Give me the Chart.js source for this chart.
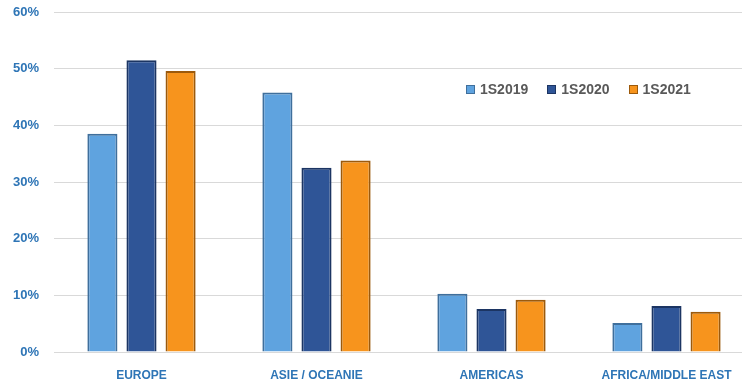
<!DOCTYPE html>
<html lang="fr">
<head>
    <meta charset="UTF-8">
    <title>Répartition par région</title>
    <style>
        html, body {
            margin: 0;
            padding: 0;
            background: #ffffff;
            overflow: hidden;
        }
        #wrap {
            position: relative;
            width: 754px;
            height: 383px;
        }
        #legende {
            position: absolute;
            left: 466px;
            top: 81px;
            display: flex;
            font-family: "Liberation Sans", Arial, sans-serif;
            font-weight: bold;
            font-size: 14px;
            color: #595959;
        }
        #legende span.item {
            display: flex;
            align-items: center;
            margin-right: 19px;
        }
        #legende span.box {
            display: inline-block;
            width: 9px;
            height: 9px;
            margin-right: 5px;
            box-sizing: border-box;
        }
    </style>
    <script src="https://cdn.jsdelivr.net/npm/chart.js"></script>
</head>
<body>
    <div id="wrap">
        <canvas id="graphique" width="754" height="383"></canvas>
        <div id="legende"></div>
    </div>

    <script>
        // données
        const regions = ['EUROPE', 'ASIE / OCEANIE', 'AMERICAS', 'AFRICA/MIDDLE EAST'];
        const series = ['1S2019', '1S2020', '1S2021'];
        const val2019 = [38.5, 45.8, 10.3, 5.1];
        const val2020 = [51.5, 32.5, 7.6, 8.1];
        const val2021 = [49.6, 33.8, 9.2, 7.1];
        const ticksY = [0, 10, 20, 30, 40, 50, 60];

        const couleurs = ['#5fa3df', '#2f5597', '#f7941d'];
        const bordures = ['#3f6f9c', '#1c3563', '#9c5a0c'];

        const datasets = [val2019, val2020, val2021].map((vals, i) => ({
            label: series[i],
            data: vals,
            backgroundColor: couleurs[i],
            borderColor: bordures[i],
            borderWidth: 2,
            categoryPercentage: 0.67,
            barPercentage: 0.77
        }));

        const chart = new Chart(document.getElementById('graphique'), {
            type: 'bar',
            data: { labels: regions, datasets: datasets },
            options: {
                responsive: false,
                animation: false,
                layout: { padding: { top: 12, left: 0, right: 0, bottom: 0 } },
                plugins: {
                    legend: { display: false },
                    tooltip: { enabled: false }
                },
                scales: {
                    x: {
                        grid: { display: false },
                        border: { display: false },
                        ticks: {
                            color: '#2e75b6',
                            padding: 8,
                            font: { family: 'Liberation Sans Narrow, Liberation Sans, Arial', size: 12, weight: 'bold' }
                        },
                        afterFit: s => { s.height = 31; }
                    },
                    y: {
                        min: 0,
                        max: 60,
                        afterBuildTicks: s => { s.ticks = ticksY.map(v => ({ value: v })); },
                        grid: { color: '#d9d9d9', lineWidth: 1, drawTicks: false },
                        border: { display: false },
                        ticks: {
                            color: '#2e75b6',
                            padding: 15,
                            callback: v => v + '%',
                            font: { family: 'Liberation Sans, Arial', size: 13, weight: 'bold' }
                        },
                        afterFit: s => {
                            s.width = 54;
                            s.paddingTop = 0;
                            s.paddingBottom = 0;
                        }
                    }
                }
            }
        });

        // légende placée dans la zone du graphique
        const legende = document.getElementById('legende');
        chart.data.datasets.forEach(ds => {
            const item = document.createElement('span');
            item.className = 'item';
            item.innerHTML = `<span class="box" style="background:${ds.backgroundColor};border:1px solid ${ds.borderColor}"></span>${ds.label}`;
            legende.appendChild(item);
        });
    </script>
</body>
</html>
